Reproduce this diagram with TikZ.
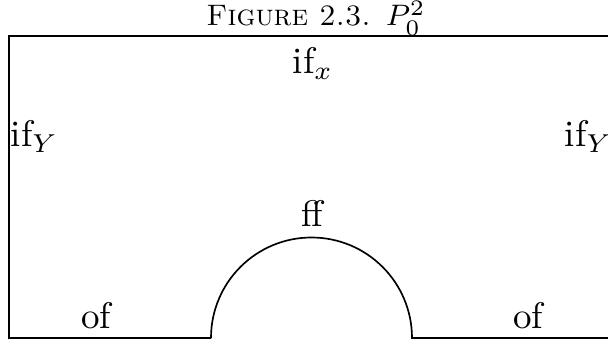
\documentclass[tikz,border=0pt]{standalone}
\usetikzlibrary{positioning}
\begin{document}
\begin{tikzpicture}[x=0.27pt,y=-0.27pt]
  \tikzset{lbl/.style={inner sep=0pt,anchor=base},
    edge/.style={draw,line width=0.45pt}}
  \useasboundingbox (0,0) rectangle (608,345);
  \node[lbl,font=\footnotesize] (cap) at (316,26) {\textsc{Figure 2.3.}\enspace$P_0^2$};
  % region with the cut-out half disc
  \coordinate (bl) at (9,338);
  \coordinate (tl) at (9,36);
  \coordinate (tr) at (614,36);
  \coordinate (br) at (614,338);
  \coordinate (hr) at (412,338);
  \coordinate (hl) at (211,338);
  \path[edge] (hl) -- (bl) -- (tl) -- (tr) -- (br) -- (hr)
    arc[start angle=0,end angle=-180,radius=100.5];
  \node[lbl] (top) at (313,74) {if$_x$};
  \node[lbl,anchor=base west] (left) at (10,147) {if$_Y$};
  \node[lbl,anchor=base east] (right) at (613,147) {if$_Y$};
  \node[lbl] (half) at (312,227) {ff};
  \node[lbl] (botl) at (96,329) {of};
  \node[lbl] (botr) at (528,329) {of};
\end{tikzpicture}
\end{document}
